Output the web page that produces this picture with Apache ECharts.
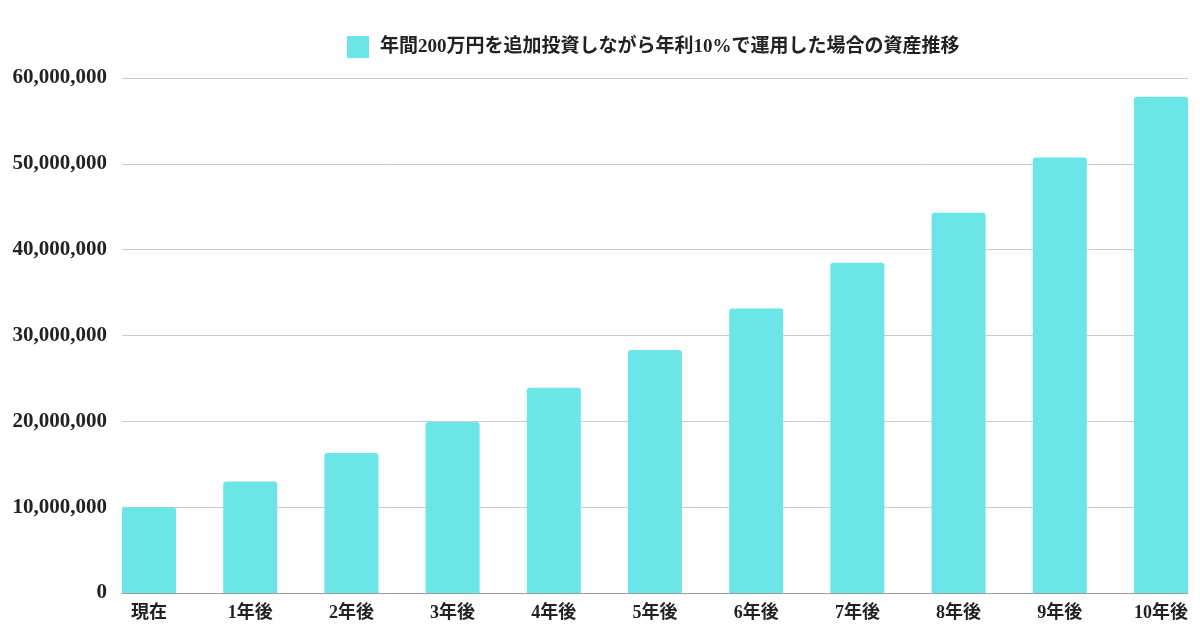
<!DOCTYPE html>
<html>
<head>
<meta charset="utf-8">
<script src="https://cdn.jsdelivr.net/npm/echarts@6/dist/echarts.min.js"></script>
<style>
html,body{margin:0;padding:0;background:#fff;}
#main{width:1200px;height:630px;}
</style>
</head>
<body>
<div id="main"></div>
<script>
var categories = ['現在','1年後','2年後','3年後','4年後','5年後','6年後','7年後','8年後','9年後','10年後'];
var assetValues = [10000000, 13000000, 16300000, 19930000, 23923000, 28315300, 33146830, 38461513, 44307664, 50738431, 57812274];
var seriesName = '年間200万円を追加投資しながら年利10%で運用した場合の資産推移';
var yMin = 0, yMax = 60000000, yStep = 10000000;

var font = '"Liberation Serif", "Noto Sans CJK JP", serif';

// x is a value axis so the first and last bars can sit flush with the gridline ends
var xIndex = categories.map(function (c, i) { return i; });
var barData = assetValues.map(function (v, i) { return [i, v]; });

var myChart = echarts.init(document.getElementById('main'));
var option = {
	animation: false,
	legend: {
		data: [seriesName],
		top: 31,
		left: 342,
		itemWidth: 22,
		itemHeight: 22,
		icon: 'rect',
		textStyle: {fontFamily: font, fontWeight: 'bold', fontSize: 19, color: '#222', padding: [0, 0, 0, 6]}
	},
	grid: {left: 122, right: 12, top: 78, bottom: 37},
	xAxis: {
		type: 'value', min: -0.267, max: 10.267,
		splitLine: {show: false},
		axisLine: {show: true, onZero: false, lineStyle: {color: '#9e9e9e', width: 1}},
		axisTick: {show: false},
		axisLabel: {
			customValues: xIndex,
			fontFamily: font, fontWeight: 'bold', fontSize: 18, color: '#222', margin: 11,
			formatter: function (v) { return categories[Math.round(v)]; }
		}
	},
	yAxis: {
		type: 'value', min: yMin, max: yMax, interval: yStep,
		axisLine: {show: false}, axisTick: {show: false},
		splitLine: {lineStyle: {color: '#cccccc', width: 1}},
		axisLabel: {
			fontFamily: font, fontWeight: 'bold', fontSize: 21, color: '#222', margin: 15,
			formatter: function (v) { return v.toLocaleString('en-US'); }
		}
	},
	series: [{
		name: seriesName,
		type: 'bar',
		barWidth: 54,
		data: barData,
		itemStyle: {color: '#6be5e8', borderRadius: [3, 3, 0, 0]}
	}]
};
myChart.setOption(option);
</script>
</body>
</html>
